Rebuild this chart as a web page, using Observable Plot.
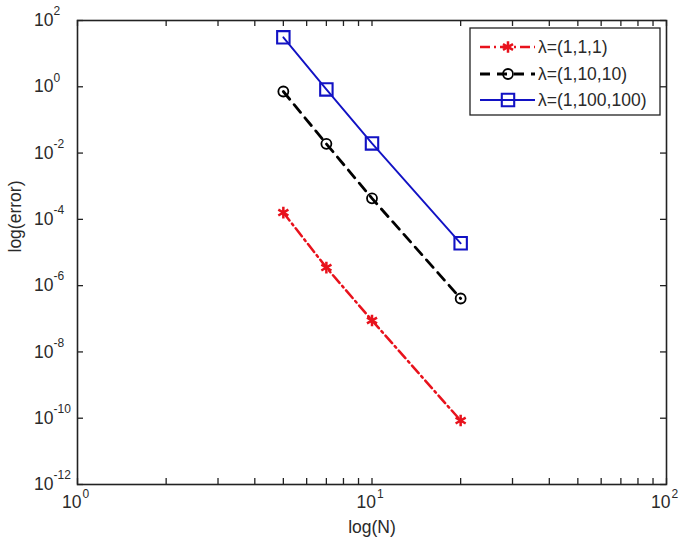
<!DOCTYPE html>
<html><head><meta charset="utf-8">
<script src="https://cdn.jsdelivr.net/npm/d3@7"></script>
<script src="https://cdn.jsdelivr.net/npm/@observablehq/plot@0.6"></script>
<style>
body{margin:0;background:#fff}
svg{font-family:"Liberation Sans",Arial,sans-serif}
</style>
</head><body><div id="chart"></div>
<script>
// ---- data ----
const seriesNames = ["λ=(1,1,1)", "λ=(1,10,10)", "λ=(1,100,100)"];
const N = [5, 7, 10, 20];
const errLam1 = [1.6e-4, 3.5e-6, 8.9e-8, 8.5e-11];
const errLam10 = [0.72, 0.019, 4.3e-4, 4.1e-7];
const errLam100 = [31, 0.83, 0.0195, 1.9e-5];
const xMajorTicks = [1, 10, 100];
const xMinorTicks = [2, 3, 4, 5, 6, 7, 8, 9, 20, 30, 40, 50, 60, 70, 80, 90];
const yMajorTicks = [1e2, 1e0, 1e-2, 1e-4, 1e-6, 1e-8, 1e-10, 1e-12];
const xLabel = "log(N)";
const yLabel = "log(error)";

// ---- styles ----
const styles = [
  {color: "#e8121c", dash: "10,4,2,4", symbol: "asterisk", r: 5.5, width: 2.5, mw: 2.5, fill: "none"},
  {color: "#000000", dash: "10,7", symbol: "circle", r: 5, width: 2.8, mw: 1.8, fill: "none"},
  {color: "#1212c4", dash: null, symbol: "square", r: 7, width: 1.9, mw: 2.1, fill: "none"}
];
const allErr = [errLam1, errLam10, errLam100];
const tables = seriesNames.map((s, i) => N.map((n, j) => ({series: s, N: n, err: allErr[i][j]})));

const W = 685, H = 543, mL = 77, mR = 19, mT = 20, mB = 59;
const pw = W - mL - mR, ph = H - mT - mB;
const tickLen = 6;
const axisColor = "#222";
const textColor = "#2a2a2a";
const fs = 17.5, fsExp = 12;
const exp = d => String(Math.round(Math.log10(d)));

const marks = [];
tables.forEach((t, i) => {
  const s = styles[i];
  marks.push(Plot.line(t, {x: "N", y: "err", stroke: s.color, strokeWidth: s.width, strokeDasharray: s.dash}));
  marks.push(Plot.dot(t, {x: "N", y: "err", symbol: s.symbol, r: s.r, stroke: s.color, strokeWidth: s.mw, fill: s.fill}));
});

const chart = Plot.plot({
  width: W, height: H,
  marginLeft: mL, marginRight: mR, marginTop: mT, marginBottom: mB,
  style: {fontFamily: "'Liberation Sans', Arial, sans-serif", background: "#fff", overflow: "visible"},
  x: {type: "log", domain: [1, 100], axis: null},
  y: {type: "log", domain: [1e-12, 1e2], axis: null},
  marks: [
    Plot.ruleY(yMajorTicks, {y: d => d, insetRight: pw - tickLen, stroke: axisColor, strokeWidth: 1.3}),
    Plot.ruleY(yMajorTicks, {y: d => d, insetLeft: pw - tickLen, stroke: axisColor, strokeWidth: 1.3}),
    Plot.ruleX([...xMajorTicks, ...xMinorTicks], {x: d => d, insetTop: ph - tickLen, stroke: axisColor, strokeWidth: 1.3}),
    Plot.ruleX([...xMajorTicks, ...xMinorTicks], {x: d => d, insetBottom: ph - tickLen, stroke: axisColor, strokeWidth: 1.3}),
    ...marks,
    Plot.frame({stroke: axisColor, strokeWidth: 1.6}),
    // y tick labels
    Plot.text(yMajorTicks, {y: d => d, text: () => "10", frameAnchor: "left", textAnchor: "end", dx: -24, fontSize: fs, fill: textColor}),
    Plot.text(yMajorTicks, {y: d => d, text: exp, frameAnchor: "left", textAnchor: "start", dx: -24, dy: -9, fontSize: fsExp, fill: textColor}),
    // x tick labels
    Plot.text(xMajorTicks, {x: d => d, text: () => "10", frameAnchor: "bottom", textAnchor: "end", dx: 4, dy: 23, fontSize: fs, fill: textColor}),
    Plot.text(xMajorTicks, {x: d => d, text: exp, frameAnchor: "bottom", textAnchor: "start", dx: 5, dy: 13, fontSize: fsExp, fill: textColor}),
    // axis labels
    Plot.text([xLabel], {frameAnchor: "bottom", dy: 48, fontSize: fs, fill: textColor}),
    Plot.text([yLabel], {frameAnchor: "left", dx: -62, rotate: -90, fontSize: fs, fill: textColor})
  ]
});

// ---- legend ----
const svg = d3.select(chart);
const lg = svg.append("g");
const bx = 470, by = 28, bw = 190, bh = 87;
lg.append("rect").attr("x", bx).attr("y", by).attr("width", bw).attr("height", bh)
  .attr("fill", "#fff").attr("stroke", axisColor).attr("stroke-width", 1.3);
const rowY = [47, 74, 100];
const symMap = {asterisk: d3.symbolAsterisk, circle: d3.symbolCircle, square: d3.symbolSquare};
seriesNames.forEach((name, i) => {
  const s = styles[i], y = rowY[i];
  lg.append("line").attr("x1", 480).attr("x2", 535).attr("y1", y).attr("y2", y)
    .attr("stroke", s.color).attr("stroke-width", s.width).attr("stroke-dasharray", s.dash);
  lg.append("path").attr("d", d3.symbol(symMap[s.symbol], Math.PI * s.r * s.r)())
    .attr("transform", `translate(508,${y})`).attr("fill", s.fill).attr("stroke", s.color).attr("stroke-width", s.mw);
  lg.append("text").attr("x", 538).attr("y", y).attr("dy", "0.35em").attr("text-anchor", "start")
    .attr("font-size", fs).attr("fill", textColor).text(name);
});

document.getElementById("chart").appendChild(chart);
</script>
</body></html>
